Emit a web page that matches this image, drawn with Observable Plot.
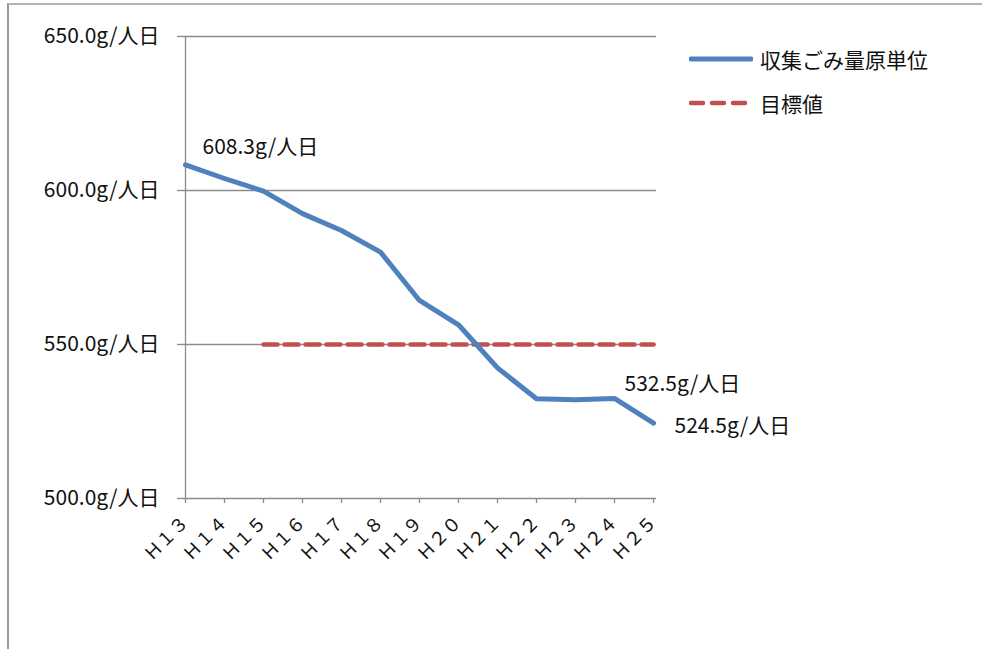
<!DOCTYPE html>
<html>
<head>
<meta charset="utf-8">
<script src="https://cdn.jsdelivr.net/npm/d3@7"></script>
<script src="https://cdn.jsdelivr.net/npm/@observablehq/plot@0.6"></script>
<style>
  html, body { margin: 0; padding: 0; background: #fff; }
  #wrap { position: relative; width: 982px; height: 649px; overflow: hidden;
          font-family: "Noto Sans CJK JP", sans-serif; }
  #frame { position: absolute; left: 7px; top: 3px; width: 990px; height: 660px;
           border-top: 2px solid #b4b4b4; border-left: 2px solid #9a9a9a; box-sizing: border-box; }
  #chart { position: absolute; left: 0; top: 0; }
  #legend { position: absolute; left: 689px; top: 37px; font-size: 21px; color: #111; }
  .item { display: flex; align-items: center; height: 44px; }
  .item svg { margin-right: 7px; }
</style>
</head>
<body>
<div id="wrap">
  <div id="frame"></div>
  <div id="chart"></div>
  <div id="legend"></div>
</div>
<script>
const years = ["Ｈ１３","Ｈ１４","Ｈ１５","Ｈ１６","Ｈ１７","Ｈ１８","Ｈ１９","Ｈ２０","Ｈ２１","Ｈ２２","Ｈ２３","Ｈ２４","Ｈ２５"];
const amounts = [608.3, 603.9, 599.8, 592.5, 587.0, 580.0, 564.3, 556.4, 542.4, 532.4, 532.1, 532.5, 524.5];
const targetYears = ["Ｈ１５","Ｈ１６","Ｈ１７","Ｈ１８","Ｈ１９","Ｈ２０","Ｈ２１","Ｈ２２","Ｈ２３","Ｈ２４","Ｈ２５"];
const targetValue = 550;
const yTicks = [500, 550, 600, 650];
const seriesNames = ["収集ごみ量原単位", "目標値"];
const seriesColors = ["#4F81BD", "#C0504D"];
const labelYears = ["Ｈ１３", "Ｈ２４", "Ｈ２５"];
const labelValues = [608.3, 532.5, 524.5];

const fmt = d => d.toFixed(1) + "g/人日";
const lineData = years.map((y, i) => ({year: y, value: amounts[i]}));
const targetData = targetYears.map(y => ({year: y, value: targetValue}));
const labelData = labelYears.map((y, i) => ({year: y, value: labelValues[i], text: fmt(labelValues[i])}));

const grid = "#8c8c8c";
const chart = Plot.plot({
  width: 982,
  height: 649,
  marginLeft: 182,
  marginRight: 326,
  marginTop: 36,
  marginBottom: 151,
  style: {fontFamily: "'Noto Sans CJK JP', sans-serif", background: "transparent", color: "#111"},
  x: {type: "point", domain: years, padding: 0, label: null},
  y: {domain: [500, 650], label: null},
  marks: [
    Plot.ruleY(yTicks, {stroke: grid, strokeWidth: 1.3}),
    Plot.ruleX([years[0]], {y1: 500, y2: 650, stroke: grid, strokeWidth: 1.3}),
    Plot.axisY({ticks: yTicks, tickSize: 5, tickPadding: 18, tickFormat: fmt, fontSize: 21,
                stroke: grid, strokeWidth: 1.3, fill: "#111", label: null}),
    Plot.axisX({tickSize: 5, tickRotate: -45, tickPadding: 16, fontSize: 18,
                stroke: grid, strokeWidth: 1.3, fill: "#111", label: null}),
    Plot.line(targetData, {x: "year", y: "value", stroke: seriesColors[1], strokeWidth: 4.5,
                           strokeDasharray: "14,7"}),
    Plot.line(lineData, {x: "year", y: "value", stroke: seriesColors[0], strokeWidth: 5,
                         strokeLinejoin: "round"}),
    Plot.text([labelData[0]], {x: "year", y: "value", text: "text", textAnchor: "start",
                               dx: 17, dy: -18, fontSize: 21, fill: "#111"}),
    Plot.text([labelData[1]], {x: "year", y: "value", text: "text", textAnchor: "start",
                               dx: 10, dy: -14, fontSize: 21, fill: "#111"}),
    Plot.text([labelData[2]], {x: "year", y: "value", text: "text", textAnchor: "start",
                               dx: 21, dy: 3, fontSize: 21, fill: "#111"})
  ]
});
document.getElementById("chart").appendChild(chart);

const legend = d3.select("#legend");
seriesNames.forEach((name, i) => {
  const item = legend.append("div").attr("class", "item");
  const svg = item.append("svg").attr("width", 64).attr("height", 10);
  svg.append("line").attr("x1", 2).attr("x2", i === 0 ? 62 : 56).attr("y1", 5).attr("y2", 5)
    .attr("stroke", seriesColors[i]).attr("stroke-width", i === 0 ? 5 : 4.5)
    .attr("stroke-linecap", "round")
    .attr("stroke-dasharray", i === 0 ? null : "12,9");
  item.append("span").text(name);
});
</script>
</body>
</html>
